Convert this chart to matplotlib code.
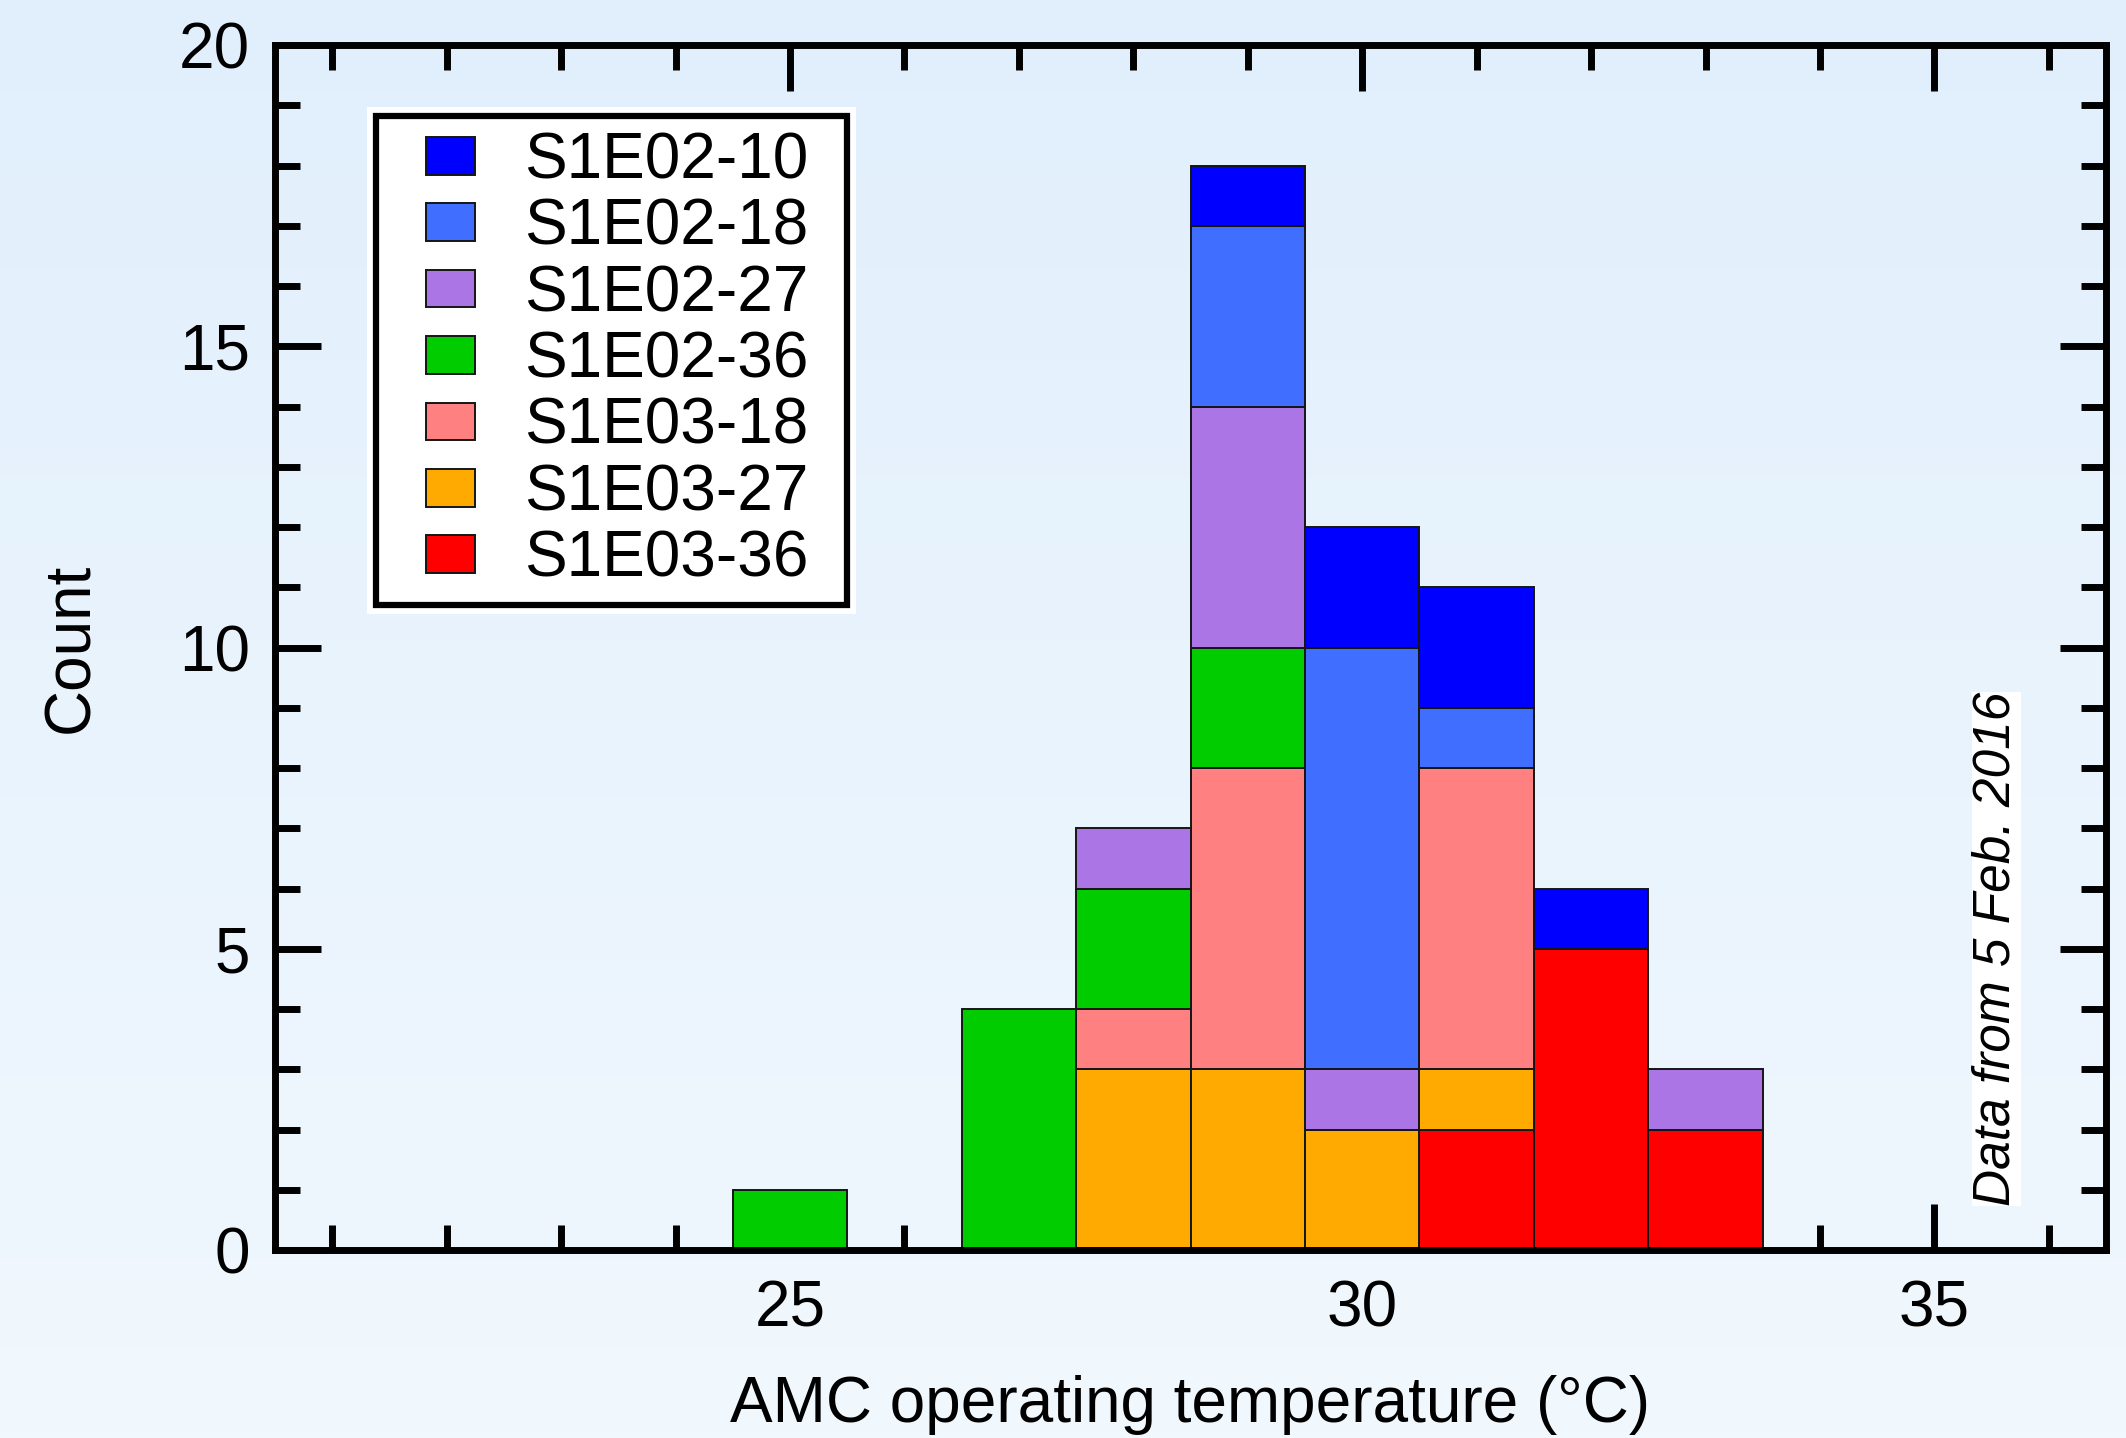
import numpy as np
import matplotlib
matplotlib.use("Agg")
import matplotlib.pyplot as plt
import matplotlib.patheffects as pe
from matplotlib.patches import Rectangle
from matplotlib.legend_handler import HandlerPatch
from matplotlib.ticker import MultipleLocator

# ---- data: counts per 1 °C bin (bin centres) for each AMC ----
bin_centers = [25, 26, 27, 28, 29, 30, 31, 32, 33]

s1e02_10 = [0, 0, 0, 0, 1, 2, 2, 1, 0]
s1e02_18 = [0, 0, 0, 0, 3, 7, 1, 0, 0]
s1e02_27 = [0, 0, 0, 1, 4, 1, 0, 0, 1]
s1e02_36 = [1, 0, 4, 2, 2, 0, 0, 0, 0]
s1e03_18 = [0, 0, 0, 1, 5, 0, 5, 0, 0]
s1e03_27 = [0, 0, 0, 3, 3, 2, 1, 0, 0]
s1e03_36 = [0, 0, 0, 0, 0, 0, 2, 5, 2]

# stacking order, bottom to top
series_names = ["S1E03-36", "S1E03-27", "S1E03-18", "S1E02-36",
                "S1E02-27", "S1E02-18", "S1E02-10"]
series_values = [s1e03_36, s1e03_27, s1e03_18, s1e02_36,
                 s1e02_27, s1e02_18, s1e02_10]
series_colors = ["#ff0000", "#ffaa00", "#ff8080", "#00cc00",
                 "#ac75e6", "#406eff", "#0000ff"]

x_major_ticks = [25, 30, 35]
y_major_ticks = [0, 5, 10, 15, 20]

plt.rcParams["font.family"] = ["Liberation Sans", "DejaVu Sans"]
FS = 46

fig = plt.figure(figsize=(21.26, 14.38), dpi=100)

# soft vertical gradient behind everything
bg = fig.add_axes([0, 0, 1, 1], zorder=-1)
top_c = np.array([0xe1, 0xef, 0xfc]) / 255.0
bot_c = np.array([0xf1, 0xf8, 0xfe]) / 255.0
t = np.linspace(0, 1, 256)[:, None]
grad = (top_c[None, :] * (1 - t) + bot_c[None, :] * t)[:, None, :]
bg.imshow(grad, aspect="auto", extent=[0, 1, 0, 1], origin="upper")
bg.set_axis_off()

ax = fig.add_axes([0.1294, 0.1307, 0.8612, 0.838])
ax.set_facecolor("none")

# stacked histogram bars
x = np.array(bin_centers, dtype=float)
bottom = np.zeros(len(x))
handles = {}
for name, vals, col in zip(series_names, series_values, series_colors):
    v = np.array(vals, dtype=float)
    m = v > 0
    bars = ax.bar(x[m], v[m], width=1.0, bottom=bottom[m], color=col,
                  edgecolor="#151515", linewidth=1.4, zorder=2, label=name)
    handles[name] = bars
    bottom += v

ax.set_xlim(20.5, 36.5)
ax.set_ylim(0, 20)
ax.set_xticks(x_major_ticks)
ax.set_yticks(y_major_ticks)
ax.xaxis.set_minor_locator(MultipleLocator(1))
ax.yaxis.set_minor_locator(MultipleLocator(1))
ax.tick_params(which="both", direction="in", top=True, right=True,
               width=5, color="black", labelsize=FS)
ax.tick_params(which="major", length=33)
ax.tick_params(which="minor", length=18)
ax.tick_params(axis="x", which="major", pad=21)
ax.tick_params(axis="y", which="major", pad=18)
for sp in ax.spines.values():
    sp.set_linewidth(5)
    sp.set_zorder(5)

ax.set_xlabel("AMC operating temperature (°C)", fontsize=FS, labelpad=26)
ax.set_ylabel("Count", fontsize=FS, labelpad=56)


# legend patches are drawn inset from the left of their handle box
def inset_patch(legend, orig_handle, xdescent, ydescent, width, height, fontsize):
    off = 34 * 72 / 100
    return Rectangle((-xdescent + off, -ydescent), width - off, height)


legend_order = ["S1E02-10", "S1E02-18", "S1E02-27", "S1E02-36",
                "S1E03-18", "S1E03-27", "S1E03-36"]
leg_handles = [handles[n].patches[0] for n in legend_order]
leg = ax.legend(leg_handles, legend_order, loc="upper left",
                bbox_to_anchor=(0.0552, 0.941), borderaxespad=0,
                fontsize=FS, frameon=True, fancybox=False,
                edgecolor="black", framealpha=1, facecolor="white",
                borderpad=0.24, labelspacing=0.1,
                handlelength=1.30, handleheight=0.53, handletextpad=0.77,
                handler_map={Rectangle: HandlerPatch(patch_func=inset_patch)})
frame = leg.get_frame()
frame.set_linewidth(4.5)
frame.set_path_effects([pe.Stroke(linewidth=13, foreground="white"), pe.Normal()])
leg.set_zorder(6)

# leave a little extra room on the right side of the legend box
_set_bounds = frame.set_bounds


def _wider_bounds(*args):
    if len(args) == 1:
        args = args[0]
    bx, by, bw, bh = args
    _set_bounds(bx, by, bw + 24, bh)


frame.set_bounds = _wider_bounds

ax.text(0.940, 0.250, "Data from 5 Feb. 2016", transform=ax.transAxes,
        rotation=90, ha="center", va="center", fontsize=37, style="italic",
        zorder=4,
        bbox=dict(boxstyle="square,pad=0.0", facecolor="white", edgecolor="none"))

fig.savefig("out.png", dpi=100)
